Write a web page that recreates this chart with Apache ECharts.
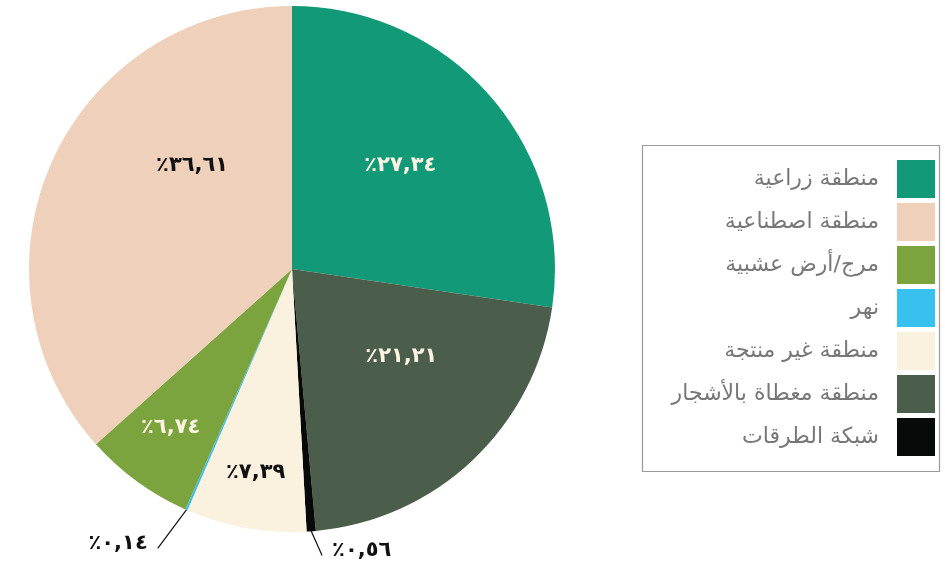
<!DOCTYPE html>
<html>
<head>
<meta charset="utf-8">
<script src="https://cdn.jsdelivr.net/npm/echarts@6/dist/echarts.min.js"></script>
<style>html,body{margin:0;padding:0;background:#fff}#c{width:945px;height:563px}</style>
</head>
<body>
<div id="c"></div>
<script>
// Data (pie order, clockwise from top)
const categories = ['منطقة زراعية', 'منطقة مغطاة بالأشجار', 'شبكة الطرقات', 'منطقة غير منتجة', 'نهر', 'مرج/أرض عشبية', 'منطقة اصطناعية'];
const values = [27.34, 21.21, 0.56, 7.39, 0.14, 6.74, 36.61];
const labelTexts = ['٪٢٧,٣٤', '٪٢١,٢١', '٪٠,٥٦', '٪٧,٣٩', '٪٠,١٤', '٪٦,٧٤', '٪٣٦,٦١'];
const legendOrder = ['منطقة زراعية', 'منطقة اصطناعية', 'مرج/أرض عشبية', 'نهر', 'منطقة غير منتجة', 'منطقة مغطاة بالأشجار', 'شبكة الطرقات'];

// Styles
const colors = ['#129a78', '#4b5e4b', '#070a08', '#faf1df', '#38c0ef', '#7ba33e', '#efd0bb'];
const labelColors = ['#fdf3e3', '#fdf3e3', '#111', '#111', '#111', '#fdf3e3', '#111'];
const CX = 292, CY = 269, R = 263;
// label placement in polar terms: radius (px) and angular shift (deg); outside ones have leader lines
const placement = [
  {r: 150, shift: -3},
  {r: 140, shift: -8},
  {outside: true, r: 288, shift: -1.8, side: 1},
  {r: 207, shift: 0},
  {outside: true, r: 310, shift: 2, side: -1},
  {r: 200, shift: 1.3},
  {r: 144, shift: 22}
];
const total = values.reduce((a, b) => a + b, 0);
const midAngles = [];
let cum = 0;
values.forEach(v => { midAngles.push((cum + v / 2) / total * 360); cum += v; });
function polar(r, deg) {
  const a = deg * Math.PI / 180;
  return [CX + r * Math.sin(a), CY - r * Math.cos(a)];
}

const chart = echarts.init(document.getElementById('c'));
chart.setOption({
  animation: false,
  graphic: [{
    type: 'rect', left: 640, top: 143,
    shape: {width: 297, height: 326},
    style: {fill: 'none', stroke: '#9a9a9a', lineWidth: 1.2}
  }],
  legend: {
    orient: 'vertical',
    right: 10, top: 160,
    padding: 0,
    align: 'right',
    icon: 'rect',
    itemWidth: 38, itemHeight: 38, itemGap: 5,
    data: legendOrder,
    textStyle: {color: '#777', fontSize: 22, fontFamily: 'DejaVu Sans', padding: [0, 13, 0, 0]}
  },
  series: [{
    type: 'pie',
    center: [CX, CY],
    radius: R,
    startAngle: 90,
    clockwise: true,
    avoidLabelOverlap: false,
    itemStyle: {borderWidth: 0},
    emphasis: {disabled: true},
    data: categories.map((name, i) => ({
      name: name,
      value: values[i],
      itemStyle: {color: colors[i]},
      label: {
        show: true,
        position: placement[i].outside ? 'outside' : 'inside',
        formatter: labelTexts[i],
        color: labelColors[i],
        fontSize: 21,
        fontWeight: 'bold',
        fontFamily: 'DejaVu Sans'
      },
      labelLine: {show: !!placement[i].outside, lineStyle: {color: '#111', width: 1.2}, length: 20, length2: 0}
    })),
    labelLayout: function (params) {
      const i = params.dataIndex;
      const p = placement[i];
      const ang = midAngles[i] + p.shift;
      if (!p.outside) {
        const pt = polar(p.r, ang);
        return {x: pt[0], y: pt[1], align: 'center', verticalAlign: 'middle'};
      }
      const start = polar(R, midAngles[i]);
      const end = polar(p.r, ang);
      const mid = [(start[0] + end[0]) / 2, (start[1] + end[1]) / 2];
      return {
        x: end[0] + p.side * 10,
        y: end[1] - 5,
        align: p.side > 0 ? 'left' : 'right',
        verticalAlign: 'middle',
        labelLinePoints: [start, mid, end]
      };
    }
  }]
});
</script>
</body>
</html>
